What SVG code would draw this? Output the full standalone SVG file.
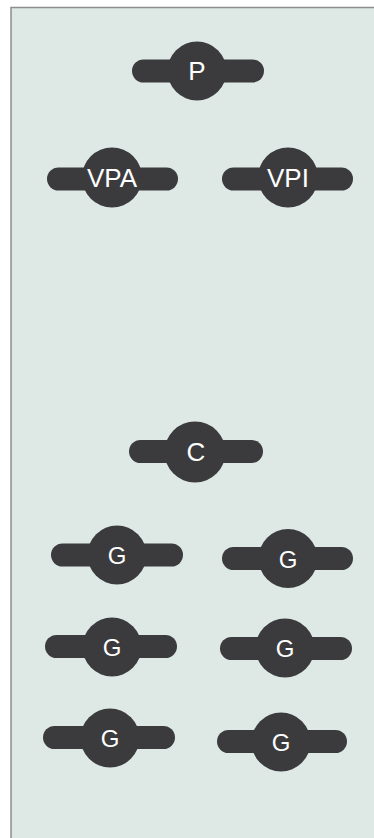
<svg xmlns="http://www.w3.org/2000/svg" width="374" height="838" viewBox="0 0 374 838">
<style>
.bar{fill:#3b3b3d}
.hub{fill:#3b3b3d}
.lbl{fill:#ffffff;font-family:"Liberation Sans",Arial,sans-serif;font-size:26px;text-anchor:middle}
.sm{font-size:24px}
</style>
<rect x="0" y="0" width="374" height="838" fill="#ffffff"/>
<rect x="11" y="7.5" width="370" height="840" fill="#dee9e5" stroke="#8a8f8d" stroke-width="1.5"/>
<g id="connectors"></g>
<g id="node-P">
<rect class="bar" x="132" y="59.5" width="132" height="23" rx="11.5"/>
<circle class="hub" cx="197" cy="71" r="29.5"/>
<text class="lbl" x="197" y="80">P</text>
</g>
<g id="node-VPA">
<rect class="bar" x="47" y="167.5" width="131" height="23" rx="11.5"/>
<circle class="hub" cx="112" cy="177.5" r="30"/>
<text class="lbl" x="112" y="187">VPA</text>
</g>
<g id="node-VPI">
<rect class="bar" x="222" y="167.5" width="131" height="23" rx="11.5"/>
<circle class="hub" cx="288" cy="177.5" r="30"/>
<text class="lbl" x="288" y="187">VPI</text>
</g>
<g id="node-C">
<rect class="bar" x="129" y="440" width="134" height="23" rx="11.5"/>
<circle class="hub" cx="195" cy="452" r="30.5"/>
<text class="lbl" x="196" y="461">C</text>
</g>
<g id="node-G1">
<rect class="bar" x="51" y="543.5" width="132" height="23" rx="11.5"/>
<circle class="hub" cx="117" cy="555" r="29.5"/>
<text class="lbl sm" x="117" y="563.5">G</text>
</g>
<g id="node-G2">
<rect class="bar" x="222" y="547" width="131" height="23" rx="11.5"/>
<circle class="hub" cx="288" cy="558.5" r="29.5"/>
<text class="lbl sm" x="288" y="567.5">G</text>
</g>
<g id="node-G3">
<rect class="bar" x="45" y="635" width="132" height="23" rx="11.5"/>
<circle class="hub" cx="112" cy="647" r="29.5"/>
<text class="lbl sm" x="112" y="655.5">G</text>
</g>
<g id="node-G4">
<rect class="bar" x="220" y="637" width="132" height="23" rx="11.5"/>
<circle class="hub" cx="285" cy="648" r="29.5"/>
<text class="lbl sm" x="285" y="656.5">G</text>
</g>
<g id="node-G5">
<rect class="bar" x="43" y="726" width="132" height="23" rx="11.5"/>
<circle class="hub" cx="110" cy="738" r="29.5"/>
<text class="lbl sm" x="110" y="746.5">G</text>
</g>
<g id="node-G6">
<rect class="bar" x="217" y="730" width="130" height="23" rx="11.5"/>
<circle class="hub" cx="281" cy="742" r="29.5"/>
<text class="lbl sm" x="281" y="750.5">G</text>
</g>
</svg>
